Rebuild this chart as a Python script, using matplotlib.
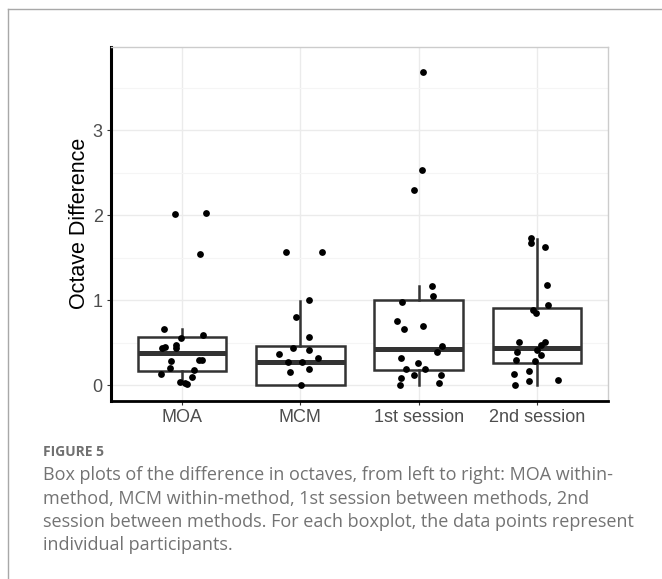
import matplotlib
matplotlib.use("Agg")
import matplotlib.pyplot as plt
from matplotlib.lines import Line2D

# categories and box summaries
groups = ["MOA", "MCM", "1st session", "2nd session"]
q1 = [0.165, 0.0, 0.176, 0.255]
med = [0.373, 0.267, 0.424, 0.439]
q3 = [0.565, 0.463, 1.0, 0.902]
whis_lo = [0.02, 0.0, 0.0, 0.0]
whis_hi = [0.655, 0.99, 1.168, 1.718]

# individual participants: value and horizontal jitter (category units)
moa_y = [0.659, 0.557, 0.584, 0.431, 0.451, 0.435, 0.467, 0.286, 0.296, 0.30,
         0.196, 0.173, 0.133, 0.09, 0.032, 0.025, 0.016, 2.008, 2.02, 1.545]
moa_dx = [-0.155, -0.006, 0.179, -0.168, -0.147, -0.054, -0.048, -0.093, 0.146, 0.168,
          -0.104, 0.104, -0.18, 0.081, -0.02, 0.028, 0.042, -0.056, 0.199, 0.152]
mcm_y = [1.0, 0.804, 0.561, 0.431, 0.412, 0.365, 0.322, 0.267, 0.267, 0.192,
         0.149, 0.0, 1.565, 1.565]
mcm_dx = [0.073, -0.039, 0.071, -0.064, 0.073, -0.182, 0.149, -0.104, 0.012, 0.073,
          -0.087, 0.008, -0.123, 0.18]
s1_y = [1.168, 1.051, 0.98, 0.753, 0.659, 0.694, 0.463, 0.384, 0.318, 0.259,
        0.185, 0.188, 0.122, 0.122, 0.082, 0.0, 0.02, 3.68, 2.526, 2.29]
s1_dx = [0.11, 0.123, -0.141, -0.183, -0.126, 0.039, 0.196, 0.154, -0.149, -0.006,
         -0.104, 0.05, -0.037, 0.185, -0.152, -0.16, 0.171, 0.039, 0.025, -0.037]
s2_y = [1.725, 1.674, 1.624, 1.176, 0.945, 0.882, 0.843, 0.51, 0.502, 0.47,
        0.392, 0.412, 0.353, 0.298, 0.278, 0.126, 0.161, 0.063, 0.047, 0.004]
s2_dx = [-0.048, -0.054, 0.064, 0.081, 0.089, -0.037, -0.006, -0.155, 0.07, 0.034,
         -0.172, 0.003, 0.03, -0.174, -0.017, -0.191, -0.067, 0.177, -0.067, -0.189]

points_y = [moa_y, mcm_y, s1_y, s2_y]
points_dx = [moa_dx, mcm_dx, s1_dx, s2_dx]

caption_lines = [
    "Box plots of the difference in octaves, from left to right: MOA within-",
    "method, MCM within-method, 1st session between methods, 2nd",
    "session between methods. For each boxplot, the data points represent",
    "individual participants.",
]

W, H = 662, 579
fig = plt.figure(figsize=(W / 100, H / 100), dpi=100)
ax = fig.add_axes([111 / W, 1 - 401 / H, (608 - 111) / W, (401 - 46.7) / H])

stats = []
for i in range(len(groups)):
    stats.append(dict(med=med[i], q1=q1[i], q3=q3[i], whislo=whis_lo[i],
                      whishi=whis_hi[i], fliers=[]))
box_col = "#333333"
ax.bxp(stats, positions=range(1, 5), widths=0.75, showcaps=False, patch_artist=True,
       boxprops=dict(facecolor="white", edgecolor=box_col, linewidth=1.8),
       whiskerprops=dict(color=box_col, linewidth=1.8),
       medianprops=dict(color=box_col, linewidth=3.6, solid_capstyle="butt"),
       zorder=2)

for i in range(len(groups)):
    xs = [i + 1 + d for d in points_dx[i]]
    ax.scatter(xs, points_y[i], s=24, color="black", linewidths=0, zorder=3)

ax.set_xlim(0.4, 4.6)
ax.set_ylim(-0.188, 3.98)
ax.set_xticks(range(1, 5))
ax.set_xticklabels(groups)
ax.set_yticks([0, 1, 2, 3])
ax.set_yticks([0.5, 1.5, 2.5, 3.5], minor=True)

ax.grid(True, which="major", color="#ebebeb", linewidth=1.0, zorder=0)
ax.grid(True, which="minor", axis="y", color="#f5f5f5", linewidth=0.8, zorder=0)
ax.set_axisbelow(True)

for side in ["top", "right"]:
    ax.spines[side].set_color("#cccccc")
    ax.spines[side].set_linewidth(1.0)
ax.spines["left"].set_color("black")
ax.spines["left"].set_linewidth(2.2)
ax.spines["bottom"].set_color("black")
ax.spines["bottom"].set_linewidth(2.0)

ax.tick_params(axis="both", which="major", labelsize=13, labelcolor="#4d4d4d",
               color="#333333", length=3, width=0.8, pad=3)
ax.tick_params(axis="both", which="minor", length=0)
for lab in ax.get_xticklabels() + ax.get_yticklabels():
    lab.set_fontfamily("Liberation Sans")

ax.set_ylabel("Octave Difference", fontsize=15.5, family="Liberation Sans", labelpad=2)

# outer frame of the journal figure
fig.add_artist(Line2D([8 / W, 1], [1 - 9 / H, 1 - 9 / H], color="#a8a8a8", linewidth=1.0))
fig.add_artist(Line2D([8 / W, 8 / W], [0, 1 - 9 / H], color="#a8a8a8", linewidth=1.0))

fig.text(43 / W, 1 - 452 / H, "FIGURE 5", fontsize=10, fontweight="bold",
         color="#707070", family="Open Sans", va="center")
for k, line in enumerate(caption_lines):
    fig.text(43 / W, 1 - (475 + 23.5 * k) / H, line, fontsize=13,
             color="#737373", family="Open Sans", va="center")

fig.savefig("out.png", dpi=100)
